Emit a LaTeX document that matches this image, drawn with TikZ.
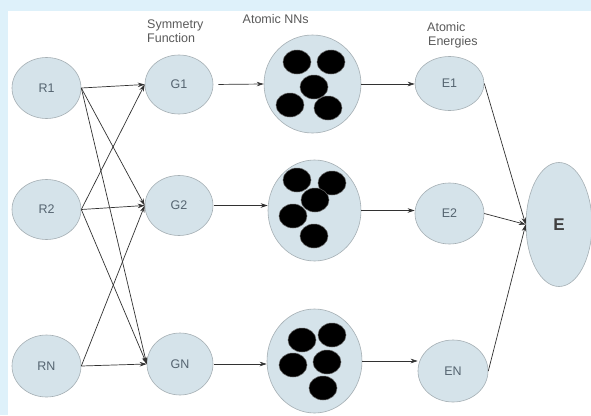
\documentclass[tikz,border=0pt]{standalone}
\usepackage{fontspec}
\setmainfont{Liberation Sans}
\usetikzlibrary{shapes.geometric,arrows.meta}
\definecolor{bgblue}{RGB}{222,241,250}
\definecolor{nodefill}{RGB}{213,227,234}
\definecolor{nodeline}{RGB}{165,175,180}
\definecolor{nodetext}{RGB}{85,100,112}
\definecolor{labeltext}{RGB}{90,90,90}
\definecolor{edgecol}{RGB}{50,50,50}
\begin{document}
\begin{tikzpicture}[x=1pt,y=-1pt,
  bub/.style={ellipse,draw=nodeline,fill=nodefill,line width=0.6pt,inner sep=0pt,text=nodetext,font=\fontsize{12.5}{14}\selectfont},
  blob/.style={ellipse,fill=black,draw=black!60,line width=0.5pt,minimum width=28pt,minimum height=24pt,inner sep=0pt},
  hdr/.style={anchor=base west,inner sep=0pt,text=labeltext,font=\fontsize{12.5}{14}\selectfont},
  conn/.style={draw=edgecol,line width=0.7pt,-{Stealth[length=7pt,width=4.5pt]}}]
\fill[bgblue] (0,0) rectangle (591,415);
\fill[white] (8,11) rectangle (591,415);
\useasboundingbox (0,0) rectangle (591,415);

% headers
\node[hdr] (h1a) at (147,28.5) {Symmetry};
\node[hdr] (h1b) at (147,42.5) {Function};
\node[hdr] (h2) at (242.5,23) {Atomic NNs};
\node[hdr] (h3a) at (427,31.5) {Atomic};
\node[hdr] (h3b) at (428,45.5) {Energies};

% input nodes
\node[bub,minimum width=69pt,minimum height=61pt] (R1) at (46.5,88) {R1};
\node[bub,minimum width=69pt,minimum height=60pt] (R2) at (46.5,209.5) {R2};
\node[bub,minimum width=69pt,minimum height=62pt] (RN) at (46.5,366) {RN};

% symmetry function nodes
\node[bub,minimum width=68pt,minimum height=59pt] (G1) at (179,84.5) {G1};
\node[bub,minimum width=68pt,minimum height=60pt] (G2) at (179,205.5) {G2};
\node[bub,minimum width=66pt,minimum height=62pt] (GN) at (180,364) {GN};

% atomic NN containers
\node[bub,minimum width=97pt,minimum height=98pt] (N1) at (312.5,84) {};
\node[bub,minimum width=93pt,minimum height=101pt] (N2) at (314.5,210.5) {};
\node[bub,minimum width=95pt,minimum height=104pt] (N3) at (314.5,361) {};

% blobs NN1
\node[blob] (a1) at (297,62) {};
\node[blob] (a2) at (331,62) {};
\node[blob] (a3) at (314,87) {};
\node[blob] (a4) at (290,105) {};
\node[blob] (a5) at (328,108) {};
% blobs NN2
\node[blob] (b1) at (297,180) {};
\node[blob] (b2) at (332,183) {};
\node[blob] (b3) at (315,200) {};
\node[blob] (b4) at (293,216) {};
\node[blob] (b5) at (314,236) {};
% blobs NN3
\node[blob] (c1) at (302,340) {};
\node[blob] (c2) at (332,335) {};
\node[blob] (c3) at (293,365) {};
\node[blob] (c4) at (327,362) {};
\node[blob] (c5) at (323,388) {};

% atomic energies
\node[bub,minimum width=69pt,minimum height=54pt] (E1) at (449.5,83.5) {E1};
\node[bub,minimum width=69pt,minimum height=61pt] (E2) at (449.5,213.5) {E2};
\node[bub,minimum width=70pt,minimum height=62pt] (EN) at (453,371) {EN};

% total energy
\node[bub,minimum width=66pt,minimum height=124pt,text=black!75,font=\fontsize{17}{19}\selectfont\bfseries] (E) at (559,224.5) {E};

% R -> G connections
\draw[conn] (R1.east) -- (G1.west);
\draw[conn] (R1.east) -- (G2.west);
\draw[conn] (R1.east) -- (GN.west);
\draw[conn] (R2.east) -- (G1.west);
\draw[conn] (R2.east) -- (G2.west);
\draw[conn] (R2.east) -- (GN.west);
\draw[conn] (RN.east) -- (G2.west);
\draw[conn] (RN.east) -- (GN.west);

% G -> NN
\draw[conn,shorten <=5pt] (G1.east) -- (N1.west);
\draw[conn,shorten <=1pt] (G2.east) -- (G2.east -| N2.west);
\draw[conn,shorten <=1pt] (GN.east) -- (GN.east -| N3.west);

% NN -> E
\draw[conn] (N1.east) -- (N1.east -| E1.west);
\draw[conn] (N2.east) -- (N2.east -| E2.west);
\draw[conn] (N3.east) -- (N3.east -| EN.west);

% E -> total
\draw[conn] (E1.east) -- (E.west);
\draw[conn] (E2.east) -- (E.west);
\draw[conn] (EN.east) -- (E.west);
\end{tikzpicture}
\end{document}
